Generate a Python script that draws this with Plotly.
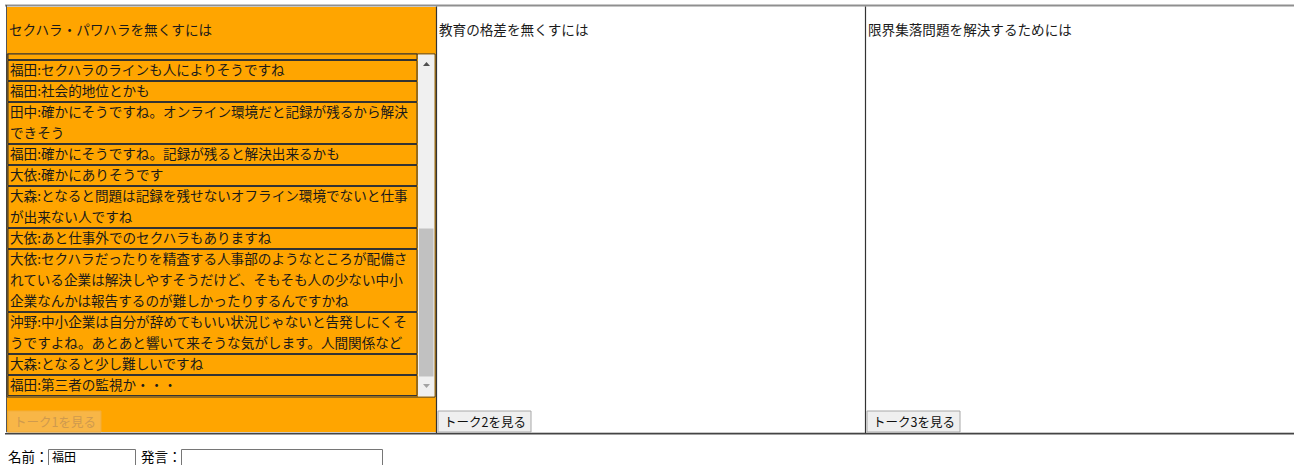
import plotly.graph_objects as go

# ---------------- data ----------------
topics = ["セクハラ・パワハラを無くすには", "教育の格差を無くすには", "限界集落問題を解決するためには"]
button_labels = ["トーク1を見る", "トーク2を見る", "トーク3を見る"]
active_topic = 0
speakers = ["福田", "福田", "田中", "福田", "大依", "大森", "大依", "大依", "沖野", "大森", "福田"]
remarks = [
    "セクハラのラインも人によりそうですね",
    "社会的地位とかも",
    "確かにそうですね。オンライン環境だと記録が残るから解決できそう",
    "確かにそうですね。記録が残ると解決出来るかも",
    "確かにありそうです",
    "となると問題は記録を残せないオフライン環境でないと仕事が出来ない人ですね",
    "あと仕事外でのセクハラもありますね",
    "セクハラだったりを精査する人事部のようなところが配備されている企業は解決しやすそうだけど、そもそも人の少ない中小企業なんかは報告するのが難しかったりするんですかね",
    "中小企業は自分が辞めてもいい状況じゃないと告発しにくそうですよね。あとあと響いて来そうな気がします。人間関係など",
    "となると少し難しいですね",
    "第三者の監視か・・・",
]
form_labels = ["名前：", "発言："]
name_value = "福田"
remark_value = ""

# ---------------- style / layout ----------------
W, H = 1294, 465
FONT = "Noto Sans CJK JP, Noto Sans CJK SC, sans-serif"
FS = 13.6
ORANGE = "#FFA500"
TXT = "#1a1a1a"
panel_left = [7, 437, 866]
panel_right = [436, 866, 1294]
top_y, bottom_y = 7, 433
title_y = 29
btn_y0, btn_y1 = 411, 432
btn_w = 93
box_y0, box_y1 = 54, 397
row_x0, row_x1 = 8, 417
sb_x0, sb_x1 = 418, 435
rows_start = 60
line_h = 21
max_em = 29.75


def em(ch):
    return 0.5 if ord(ch) < 256 else 1.0


def wrap(text):
    lines, cur, w = [], "", 0.0
    for ch in text:
        if w + em(ch) > max_em and cur:
            lines.append(cur)
            cur, w = "", 0.0
        cur += ch
        w += em(ch)
    if cur:
        lines.append(cur)
    return lines


shapes = []
annotations = []


def rect(x0, y0, x1, y1, fill, line=None, lw=1):
    shapes.append(dict(type="rect", xref="x", yref="y", x0=x0, y0=y0, x1=x1, y1=y1,
                       fillcolor=fill, line=dict(color=line or "rgba(0,0,0,0)", width=lw if line else 0),
                       layer="above"))


def hline(x0, x1, y, color, lw=1):
    shapes.append(dict(type="line", xref="x", yref="y", x0=x0, x1=x1, y0=y, y1=y,
                       line=dict(color=color, width=lw), layer="above"))


def vline(x, y0, y1, color, lw=1):
    shapes.append(dict(type="line", xref="x", yref="y", x0=x, x1=x, y0=y0, y1=y1,
                       line=dict(color=color, width=lw), layer="above"))


def text(x, y, s, size=FS, color=TXT):
    annotations.append(dict(x=x, y=y, xref="x", yref="y", text=s, showarrow=False,
                            xanchor="left", yanchor="middle", borderpad=0,
                            font=dict(family=FONT, size=size, color=color)))


# panels
for i, t in enumerate(topics):
    if i == active_topic:
        rect(panel_left[i], top_y, panel_right[i], bottom_y, ORANGE)
    text(panel_left[i] + 1, title_y, t)

# outer table borders
hline(5, W, 5.5, "#8f8f8f", 2)
vline(6.5, 5, 434, "#555555", 1)
hline(6, W, 432.5, "#c8c8c8", 1)
hline(5, W, 433.8, "#444444", 1.5)
for x in panel_left[1:]:
    vline(x - 0.5, 6.5, 433, "#333333", 1.2)

# chat box of active topic
rect(7, box_y0, sb_x1, box_y1, ORANGE, "#333333", 1)
# partial (scrolled) row
rect(row_x0, box_y0, row_x1, rows_start - 0.5, ORANGE, "#333333", 1)
y = rows_start
for spk, rem in zip(speakers, remarks):
    lines = wrap(spk + ":" + rem)
    h = len(lines) * line_h
    rect(row_x0, y + 0.5, row_x1, y + h - 0.5, ORANGE, "#333333", 1)
    for k, ln in enumerate(lines):
        text(row_x0 + 1, y + 9.3 + k * line_h, ln)
    y += h

# scrollbar
rect(sb_x0, box_y0 + 0.5, sb_x1 - 0.5, box_y1 - 0.5, "#f0f0f0")
rect(sb_x0 + 1, 228.5, sb_x1 - 1.5, 376.5, "#c1c1c1")
cx = (sb_x0 + sb_x1) / 2
shapes.append(dict(type="path", xref="x", yref="y",
                   path=f"M {cx-3.5} 66 L {cx+3.5} 66 L {cx} 62 Z",
                   fillcolor="#505050", line=dict(width=0), layer="above"))
shapes.append(dict(type="path", xref="x", yref="y",
                   path=f"M {cx-3.5} 384 L {cx+3.5} 384 L {cx} 388 Z",
                   fillcolor="#a3a3a3", line=dict(width=0), layer="above"))

# buttons
for i, lab in enumerate(button_labels):
    x0 = panel_left[i] + 1
    if i == active_topic:
        rect(x0, btn_y0, x0 + btn_w, btn_y1, "#f8b647", "#f2ad3a", 1)
        text(x0 + 5, (btn_y0 + btn_y1) / 2 - 0.5, lab, 12.5, "#cf9a4e")
    else:
        rect(x0, btn_y0, x0 + btn_w, btn_y1, "#efefef", "#a8a8a8", 1)
        text(x0 + 5, (btn_y0 + btn_y1) / 2 - 0.5, lab, 12.5, "#111111")

# form
form_y = 456
text(7, form_y, form_labels[0], 13.5, "#000000")
rect(48.5, 449.5, 135.5, 467, "#ffffff", "#767676", 1)
text(51, form_y, name_value, 12, "#000000")
text(140, form_y, form_labels[1], 13.5, "#000000")
rect(181.5, 449.5, 382.5, 467, "#ffffff", "#767676", 1)
text(184, form_y, remark_value, 12, "#000000")

fig = go.Figure()
fig.update_layout(
    width=W, height=H, margin=dict(l=0, r=0, t=0, b=0),
    paper_bgcolor="#ffffff", plot_bgcolor="#ffffff",
    xaxis=dict(range=[0, W], visible=False, fixedrange=True),
    yaxis=dict(range=[H, 0], visible=False, fixedrange=True),
    shapes=shapes, annotations=annotations, showlegend=False,
)
fig.write_html("out.html", config={"displayModeBar": False, "staticPlot": True},
               post_script="document.body.style.margin='0';document.body.style.overflow='hidden';")
